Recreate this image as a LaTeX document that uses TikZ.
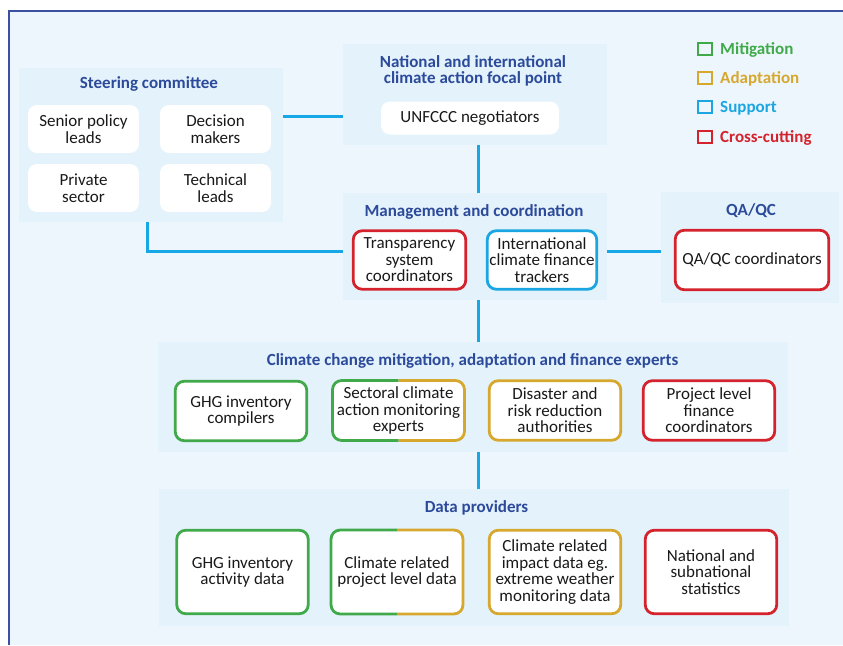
\documentclass[tikz,border=0pt]{standalone}
\usepackage{fontspec}
\setmainfont{Carlito}
\usetikzlibrary{calc}

\definecolor{pagebg}{RGB}{238,246,253}
\definecolor{panelbg}{RGB}{228,242,252}
\definecolor{frameblue}{RGB}{60,80,160}
\definecolor{titleblue}{RGB}{44,74,154}
\definecolor{linkblue}{RGB}{22,168,230}
\definecolor{mitig}{RGB}{64,170,74}
\definecolor{adapt}{RGB}{214,168,46}
\definecolor{supp}{RGB}{27,166,225}
\definecolor{cross}{RGB}{212,35,44}
\definecolor{bodytext}{RGB}{25,25,25}

% outline of a card split in two colours: left half, right half
\newcommand\halfedges[3]{%
  \begin{scope}
    \clip ($(#1.north west)+(-3,-3)$) rectangle ($(#1.south)+(0,3)$);
    \draw[draw=#2, line width=2.8pt, rounded corners=9pt] (#1.north west) rectangle (#1.south east);
  \end{scope}
  \begin{scope}
    \clip ($(#1.north)+(0,-3)$) rectangle ($(#1.south east)+(3,3)$);
    \draw[draw=#3, line width=2.8pt, rounded corners=9pt] (#1.north west) rectangle (#1.south east);
  \end{scope}}

\begin{document}
\begin{tikzpicture}[x=1pt,y=-1pt,
  panel/.style={fill=panelbg, draw=none, inner sep=0pt},
  ptitle/.style={font=\bfseries\fontsize{17}{16}\selectfont, text=titleblue, align=center, inner sep=0pt},
  card/.style={fill=white, rounded corners=9pt, align=center, inner sep=0pt, font=\fontsize{17}{16.5}\selectfont, text=bodytext},
  edged/.style={card, draw=#1, line width=2.8pt},
  link/.style={draw=linkblue, line width=3pt},
  legsq/.style={draw=#1, line width=2.4pt, minimum width=14pt, minimum height=12pt, inner sep=0pt},
  legtext/.style={font=\bfseries\fontsize{17}{17}\selectfont, text=#1, anchor=base west, inner sep=0pt},
]
\useasboundingbox (0,0) rectangle (843,645);

% page background and frame
\fill[white] (0,0) rectangle (843,645);
\fill[pagebg] (9,11) rectangle (843,645);
\draw[frameblue, line width=1.2pt] (9,645) -- (9,11) -- (843,11);

% panels
\node[panel, minimum width=264pt, minimum height=154pt] (sc) at (151,145) {};
\node[panel, minimum width=264pt, minimum height=101pt] (fp) at (475,94.5) {};
\node[panel, minimum width=264pt, minimum height=107pt] (mg) at (475,246.5) {};
\node[panel, minimum width=178pt, minimum height=111pt] (qa) at (750,247.5) {};
\node[panel, minimum width=630pt, minimum height=110pt] (ex) at (473,397) {};
\node[panel, minimum width=630pt, minimum height=137pt] (dp) at (474,557.5) {};

% connectors
\coordinate (j1) at (0,116);
\coordinate (spine) at (478,0);
\coordinate (row) at (0,251);
\coordinate (leftdrop) at (147,0);
\draw[link] (sc.east |- j1) -- (fp.west |- j1);
\draw[link] (fp.south -| spine) -- (mg.north -| spine);
\draw[link] (sc.south -| leftdrop) |- (mg.west |- row);
\draw[link] (mg.east |- row) -- (qa.west |- row);
\draw[link] (mg.south -| spine) -- (ex.north -| spine);
\draw[link] (ex.south -| spine) -- (dp.north -| spine);

% panel titles
\node[ptitle, anchor=base] (tsc) at (149,88) {Steering committee};
\node[ptitle] (tfp) at (473,71) {National and international\\climate action focal point};
\node[ptitle, anchor=base] (tmg) at (474,216) {Management and coordination};
\node[ptitle, anchor=base] (tqa) at (751,215) {QA/QC};
\node[ptitle, anchor=base] (tex) at (472.5,365.5) {Climate change mitigation, adaptation and finance experts};
\node[ptitle, anchor=base] (tdp) at (476.5,512) {Data providers};

% steering committee members
\node[card, minimum width=111pt, minimum height=48pt] (s1) at (83.5,129) {Senior policy\\leads};
\node[card, minimum width=111pt, minimum height=48pt] (s2) at (215.5,129) {Decision\\makers};
\node[card, minimum width=111pt, minimum height=48pt] (s3) at (83.5,188) {Private\\sector};
\node[card, minimum width=111pt, minimum height=48pt] (s4) at (215.5,188) {Technical\\leads};

% focal point
\node[card, minimum width=178pt, minimum height=33pt] (un) at (470,118) {UNFCCC negotiators};

% management and coordination
\node[edged=cross, minimum width=112.5pt, minimum height=58.5pt] (tr) at (409.5,260) {Transparency\\system\\coordinators};
\node[edged=supp, minimum width=109.5pt, minimum height=58.5pt] (ic) at (542,260) {International\\climate finance\\trackers};

% QA/QC
\node[edged=cross, minimum width=153.5pt, minimum height=59.5pt] (qc) at (752,260) {QA/QC coordinators};

% experts
\node[edged=mitig, minimum width=131.5pt, minimum height=59.5pt] (e1) at (241,411) {GHG inventory\\compilers};
\node[card, minimum width=131.5pt, minimum height=59.5pt] (e2) at (398.5,410.5) {Sectoral climate\\action monitoring\\experts};
\halfedges{e2}{mitig}{adapt}
\node[edged=adapt, minimum width=131.5pt, minimum height=59.5pt] (e3) at (555,410.5) {Disaster and\\risk reduction\\authorities};
\node[edged=cross, minimum width=131.5pt, minimum height=59.5pt] (e4) at (709,410.5) {Project level\\finance\\coordinators};

% data providers
\node[edged=mitig, minimum width=131.5pt, minimum height=83.5pt] (d1) at (242.5,572) {GHG inventory\\activity data};
\node[card, minimum width=131.5pt, minimum height=83.5pt] (d2) at (397,572) {Climate related\\project level data};
\halfedges{d2}{mitig}{adapt}
\node[edged=adapt, minimum width=131.5pt, minimum height=83.5pt] (d3) at (555,572) {Climate related\\impact data eg.\\extreme weather\\monitoring data};
\node[edged=cross, minimum width=131.5pt, minimum height=83.5pt] (d4) at (711,572) {National and\\subnational\\statistics};

% legend
\node[legsq=mitig] (k1) at (705,49) {};
\node[legsq=adapt] (k2) at (705,78) {};
\node[legsq=supp] (k3) at (705,107) {};
\node[legsq=cross] (k4) at (705,137) {};
\node[legtext=mitig] (l1) at (720,54.5) {Mitigation};
\node[legtext=adapt] (l2) at (720,83.5) {Adaptation};
\node[legtext=supp] (l3) at (720,112.5) {Support};
\node[legtext=cross] (l4) at (720,142.5) {Cross-cutting};
\end{tikzpicture}
\end{document}
